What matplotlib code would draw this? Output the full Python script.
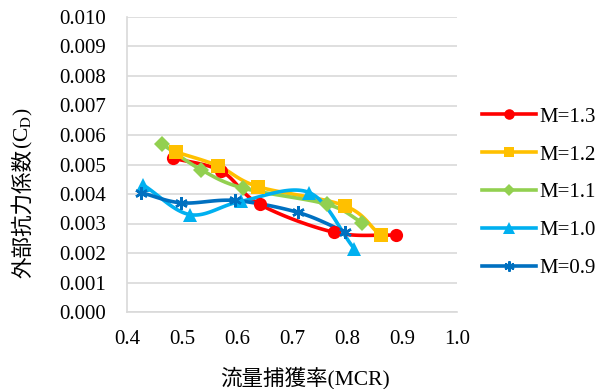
import numpy as np
import matplotlib
matplotlib.use('Agg')
from matplotlib import pyplot as plt

# Data
mcr_13 = [0.483, 0.571, 0.641, 0.777, 0.889]
cd_13 = [0.00522, 0.00478, 0.00365, 0.00270, 0.00260]

mcr_12 = [0.490, 0.566, 0.638, 0.796, 0.861]
cd_12 = [0.00542, 0.00495, 0.00425, 0.00360, 0.00260]

mcr_11 = [0.463, 0.535, 0.611, 0.764, 0.828]
cd_11 = [0.00570, 0.00482, 0.00420, 0.00365, 0.00303]

mcr_10 = [0.430, 0.515, 0.607, 0.731, 0.813]
cd_10 = [0.00430, 0.00330, 0.00375, 0.00405, 0.00215]

mcr_09 = [0.425, 0.499, 0.596, 0.710, 0.797]
cd_09 = [0.00405, 0.00370, 0.00378, 0.00338, 0.00272]

labels = ['M=1.3', 'M=1.2', 'M=1.1', 'M=1.0', 'M=0.9']
colors = ['#FF0000', '#FFC000', '#92D050', '#00B0F0', '#0070C0']
markers = ['o', 's', 'D', '^', (6, 2, 0)]
msizes = [9.5, 9.5, 8, 10, 9]


def smooth(x, y, n=30):
    # Catmull-Rom style smoothing like Excel's smoothed line
    x = np.asarray(x); y = np.asarray(y)
    px = np.concatenate([[2 * x[0] - x[1]], x, [2 * x[-1] - x[-2]]])
    py = np.concatenate([[2 * y[0] - y[1]], y, [2 * y[-1] - y[-2]]])
    xs, ys = [], []
    t = np.linspace(0, 1, n)
    for i in range(1, len(px) - 2):
        for p, out in ((px, xs), (py, ys)):
            p0, p1, p2, p3 = p[i - 1], p[i], p[i + 1], p[i + 2]
            c1 = p1 + (p2 - p0) / 6
            c2 = p2 - (p3 - p1) / 6
            out.extend((1 - t) ** 3 * p1 + 3 * (1 - t) ** 2 * t * c1
                       + 3 * (1 - t) * t ** 2 * c2 + t ** 3 * p2)
    return xs, ys


plt.rcParams['font.family'] = ['Liberation Serif', 'Noto Sans CJK JP']
plt.rcParams['mathtext.fontset'] = 'stix'

W, H = 614, 389
fig = plt.figure(figsize=(W / 100, H / 100), dpi=100)
ax = fig.add_axes([127 / W, 1 - 312 / H, (457 - 127) / W, (312 - 17) / H])

series = [(mcr_13, cd_13), (mcr_12, cd_12), (mcr_11, cd_11), (mcr_10, cd_10), (mcr_09, cd_09)]
for (x, y), lab, c, m, ms in zip(series, labels, colors, markers, msizes):
    sx, sy = smooth(x, y)
    ax.plot(sx, sy, color=c, lw=2.6, zorder=3, solid_capstyle='round')
    mew = 1.8 if isinstance(m, tuple) else 0
    ax.plot(x, y, ls='none', marker=m, ms=ms, color=c, mec=c, mew=mew, zorder=4)
    ax.plot([], [], color=c, lw=2.6, marker=m, ms=ms * 0.8, mec=c, mew=mew, label=lab)

ax.set_xlim(0.4, 1.0)
ax.set_ylim(0, 0.010)
ax.set_xticks(np.arange(0.4, 1.01, 0.1))
ax.set_xticklabels(['0.4', '0.5', '0.6', '0.7', '0.8', '0.9', '1.0'])
ax.set_yticks(np.arange(0, 0.0101, 0.001))
ax.set_yticklabels(['%.3f' % v for v in np.arange(0, 0.0101, 0.001)])
ax.tick_params(length=0, labelsize=15)
ax.tick_params(axis='y', pad=15)
ax.tick_params(axis='x', pad=13)
ax.grid(axis='y', color='#D9D9D9', lw=1.2)
ax.set_axisbelow(True)
for s in ['top', 'right']:
    ax.spines[s].set_visible(False)
for s in ['left', 'bottom']:
    ax.spines[s].set_color('#D9D9D9')
    ax.spines[s].set_linewidth(1.2)

fig.text(305 / W, 1 - 378 / H, '流量捕獲率(MCR)', fontsize=15.5, ha='center', va='center')

# y label: CJK part plus a mathtext part for the subscript
t1 = fig.text(23 / W, 1 - 278 / H, '外部抗力係数', fontsize=15.5, rotation=90,
              ha='center', va='bottom', family='Noto Sans CJK JP')
r = fig.canvas.get_renderer()
bb = t1.get_window_extent(r)
fig.text(23 / W, bb.y1 / H, '(C$_\\mathrm{D}$)', fontsize=15.5, rotation=90,
         ha='center', va='bottom', family='Liberation Serif')

fig.legend(loc='upper left', bbox_to_anchor=(482 / W, 1 - 107 / H), frameon=False,
           fontsize=15, handlelength=2.6, labelspacing=0.88, handletextpad=0.15,
           borderaxespad=0, borderpad=0)

fig.savefig('out.png', dpi=100)
